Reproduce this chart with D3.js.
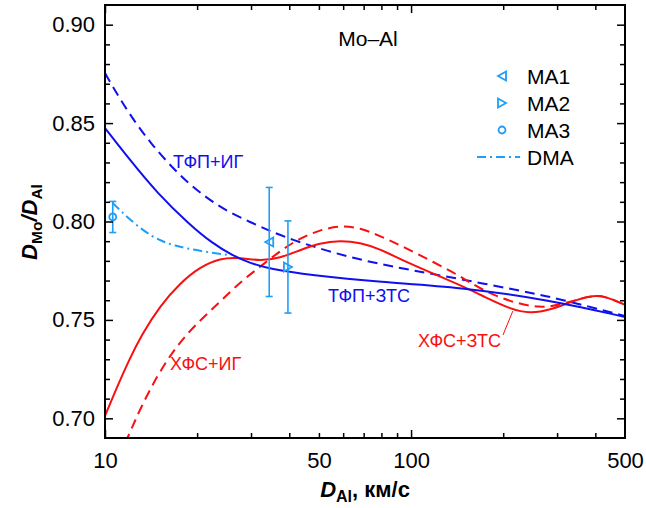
<!DOCTYPE html>
<html>
<head>
<meta charset="utf-8">
<script src="https://cdn.jsdelivr.net/npm/d3@7"></script>
<style>
body { margin: 0; background: #fff; }
text { font-family: "Liberation Sans", Arial, sans-serif; }
</style>
</head>
<body>
<div id="chart"></div>
<script>
// curves: [D_Al (km/s), D_Mo/D_Al]
var tfpZts = [[10,0.8475],[12.07,0.8312],[14.79,0.8145],[18.96,0.7982],[22.37,0.7891],[26.2,0.7825],
    [29.78,0.7789],[34.6,0.7759],[46.8,0.7728],[79.1,0.7692],[144.6,0.7667],[284.6,0.7601],[500,0.7515]];
var tfpIg = [[10,0.8754],[11.2,0.8622],[12.53,0.8505],[14.03,0.8404],[15.95,0.8302],[18.53,0.8200],
    [21.54,0.8119],[25,0.8053],[29.78,0.7997],[34.6,0.7952],[40.2,0.7911],[54.4,0.7845],
    [73.4,0.7794],[100,0.7753],[144.6,0.7708],[239,0.7642],[307,0.7606],[500,0.7520]];
var hfsZts = [[10,0.7012],[10.78,0.7134],[11.89,0.7286],[13.21,0.7428],[15.12,0.7571],[17.58,0.7687],
    [20.45,0.7769],[23.76,0.7814],[27.6,0.7817],[32.1,0.7799],[37.3,0.7814],[43.4,0.7855],
    [50.4,0.7891],[58.6,0.7903],[68.1,0.7893],[79.1,0.7860],[92,0.7809],[115,0.7743],
    [144.6,0.7677],[174.5,0.7616],[211,0.7555],[245,0.7532],[284.6,0.7550],[331,0.7591],
    [385,0.7624],[430,0.7622],[500,0.7576]];
var hfsIg = [[11.62,0.6875],[11.89,0.6905],[13.01,0.7047],[14.79,0.7215],[16.93,0.7357],[19.68,0.7474],
    [23.76,0.7591],[27.6,0.7692],[32.1,0.7769],[37.3,0.7850],[43.4,0.7916],[50.4,0.7957],
    [58.6,0.7979],[68.1,0.7969],[79.1,0.7926],[92,0.7880],[115,0.7804],[144.6,0.7723],
    [168.1,0.7657],[211,0.7591],[264,0.7560],[307,0.7576],[385,0.7624],[430,0.7622],[500,0.7576]];
var dma = [[10.6,0.8094],[12.07,0.8007],[14.35,0.7916],[16.9,0.7875],[20.4,0.7850],[25.2,0.7830]];

// measured points: x, y, error
var ma1 = [34.4, 0.7896, 0.0277];
var ma2 = [39.6, 0.7769, 0.0234];
var ma3 = [10.6, 0.8023, 0.0079];

var xLabels = [10, 50, 100, 500];
var xMajor = [10, 100];
var xMinor = [20, 30, 40, 50, 60, 70, 80, 90, 200, 300, 400];
var yLabels = [0.70, 0.75, 0.80, 0.85, 0.90];
var yMinor = [0.71,0.72,0.73,0.74,0.76,0.77,0.78,0.79,0.81,0.82,0.83,0.84,0.86,0.87,0.88,0.89];

var legendNames = ["MA1", "MA2", "MA3", "DMA"];

function init(){
    var blue = "#1010ee", red = "#f81010", light = "#1e9ef8";

    var w = 646, h = 508;
    var pl = 105, pr = 625, pt = 5, pb = 438;

    var svg = d3.select("#chart").append("svg")
        .attr("width", w).attr("height", h);

    var x = d3.scaleLog().domain([10, 500]).range([pl, pr]);
    var y = d3.scaleLinear().domain([0.69, 0.91]).range([pb, pt]);

    svg.append("clipPath").attr("id", "clip")
        .append("rect").attr("x", pl).attr("y", pt)
        .attr("width", pr - pl).attr("height", pb - pt);

    var line = d3.line()
        .x(function(d){ return x(d[0]); })
        .y(function(d){ return y(d[1]); })
        .curve(d3.curveBasis);

    var plot = svg.append("g").attr("clip-path", "url(#clip)");

    function curve(data, color, dash){
        plot.append("path").datum(data)
            .attr("d", line)
            .attr("fill", "none")
            .attr("stroke", color)
            .attr("stroke-width", 2)
            .attr("stroke-dasharray", dash);
    }
    curve(dma, light, "9,4,2,4");
    curve(tfpIg, blue, "10,6");
    curve(hfsIg, red, "10,6");
    curve(hfsZts, red, null);
    curve(tfpZts, blue, null);

    // error bars + markers
    function errbar(p){
        var g = svg.append("g").attr("stroke", light).attr("stroke-width", 1.6).attr("fill", "none");
        var cx = x(p[0]);
        g.append("line").attr("x1", cx).attr("x2", cx).attr("y1", y(p[1]+p[2])).attr("y2", y(p[1]-p[2]));
        g.append("line").attr("x1", cx-3.5).attr("x2", cx+3.5).attr("y1", y(p[1]+p[2])).attr("y2", y(p[1]+p[2]));
        g.append("line").attr("x1", cx-3.5).attr("x2", cx+3.5).attr("y1", y(p[1]-p[2])).attr("y2", y(p[1]-p[2]));
    }
    function marker(kind, cx, cy){
        var g = svg.append("g").attr("transform", "translate(" + cx + "," + cy + ")");
        if (kind === "circle") {
            g.append("circle").attr("r", 3.5);
        } else {
            var s = kind === "left" ? 1 : -1;
            g.append("path").attr("d", "M" + (-4*s) + ",0L" + (4*s) + ",-4.5L" + (4*s) + ",4.5Z");
        }
        g.selectAll("*").attr("fill", "none").attr("stroke", light).attr("stroke-width", 1.8);
    }
    errbar(ma1); errbar(ma2); errbar(ma3);
    marker("left", x(ma1[0]), y(ma1[1]));
    marker("right", x(ma2[0]), y(ma2[1]));
    marker("circle", x(ma3[0]), y(ma3[1]));

    // axes
    function noDomain(g){ g.select(".domain").remove(); }
    svg.append("g").attr("transform", "translate(0," + pb + ")")
        .call(d3.axisBottom(x).tickValues(xLabels).tickSize(0).tickPadding(14).tickFormat(d3.format("d")))
        .call(noDomain)
        .selectAll("text").attr("font-size", 22).attr("fill", "#000").style("font-family", "Liberation Sans");
    [[pb, d3.axisBottom], [pt, d3.axisTop]].forEach(function(a){
        svg.append("g").attr("transform", "translate(0," + a[0] + ")")
            .call(a[1](x).tickValues(xMajor).tickSize(-8).tickFormat(""))
            .call(noDomain);
        svg.append("g").attr("transform", "translate(0," + a[0] + ")")
            .call(a[1](x).tickValues(xMinor).tickSize(-5).tickFormat(""))
            .call(noDomain);
    });
    svg.append("g").attr("transform", "translate(" + pl + ",0)")
        .call(d3.axisLeft(y).tickValues(yLabels).tickSize(0).tickPadding(10).tickFormat(d3.format(".2f")))
        .call(noDomain)
        .selectAll("text").attr("font-size", 22).attr("fill", "#000").style("font-family", "Liberation Sans");
    [[pl, d3.axisLeft], [pr, d3.axisRight]].forEach(function(a){
        svg.append("g").attr("transform", "translate(" + a[0] + ",0)")
            .call(a[1](y).tickValues(yLabels).tickSize(-8).tickFormat(""))
            .call(noDomain);
        svg.append("g").attr("transform", "translate(" + a[0] + ",0)")
            .call(a[1](y).tickValues(yMinor).tickSize(-5).tickFormat(""))
            .call(noDomain);
    });
    svg.selectAll(".tick line").attr("stroke", "#000").attr("stroke-width", 1.5);

    svg.append("rect").attr("x", pl).attr("y", pt)
        .attr("width", pr - pl).attr("height", pb - pt)
        .attr("fill", "none").attr("stroke", "#000").attr("stroke-width", 2);

    // axis titles
    var xt = svg.append("text").attr("x", 365).attr("y", 497).attr("text-anchor", "middle")
        .attr("font-size", 22).attr("font-weight", "bold");
    xt.append("tspan").attr("font-style", "italic").text("D");
    xt.append("tspan").attr("font-size", 16).attr("dy", 5).text("Al");
    xt.append("tspan").attr("dy", -5).text(", км/с");

    var yt = svg.append("text").attr("transform", "translate(37,222) rotate(-90)")
        .attr("text-anchor", "middle").attr("font-size", 22).attr("font-weight", "bold");
    yt.append("tspan").attr("font-style", "italic").text("D");
    yt.append("tspan").attr("font-size", 15.5).attr("dy", 5).text("Mo");
    yt.append("tspan").attr("dy", -5).attr("font-style", "italic").text("/D");
    yt.append("tspan").attr("font-size", 15.5).attr("dy", 5).text("Al");

    // annotations
    svg.append("text").attr("x", 368).attr("y", 46).attr("text-anchor", "middle")
        .attr("font-size", 21).text("Mo–Al");
    function label(t, lx, ly, color){
        svg.append("text").attr("x", lx).attr("y", ly).attr("font-size", 18)
            .attr("fill", color).text(t);
    }
    label("ТФП+ИГ", 173, 168, blue);
    label("ТФП+ЗТС", 328, 302, blue);
    label("ХФС+ИГ", 170, 370, red);
    label("ХФС+ЗТС", 418, 347, red);
    svg.append("line").attr("x1", 503).attr("y1", 335).attr("x2", x(215)).attr("y2", y(0.7545))
        .attr("stroke", red).attr("stroke-width", 1);

    // legend
    var ly0 = 76, lstep = 27;
    legendNames.forEach(function(n, i){
        svg.append("text").attr("x", 527).attr("y", ly0 + i*lstep + 8)
            .attr("font-size", 21).text(n);
    });
    marker("left", 502, ly0);
    marker("right", 502, ly0 + lstep);
    marker("circle", 502, ly0 + 2*lstep);
    svg.append("line").attr("x1", 477).attr("x2", 520)
        .attr("y1", ly0 + 3*lstep).attr("y2", ly0 + 3*lstep)
        .attr("stroke", light).attr("stroke-width", 2).attr("stroke-dasharray", "9,4,2,4");
}
window.onload = init;
</script>
</body>
</html>
